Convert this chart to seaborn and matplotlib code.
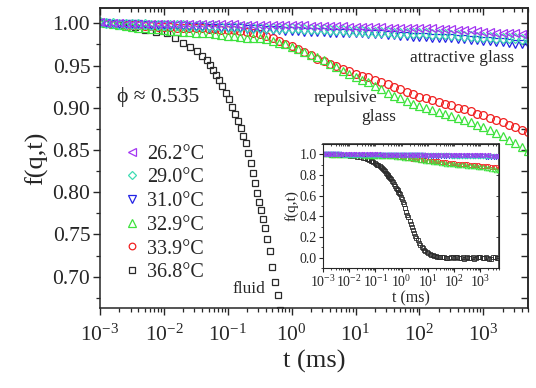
import matplotlib
matplotlib.use('Agg')
import matplotlib.pyplot as plt
from matplotlib.ticker import LogLocator, MultipleLocator, FormatStrFormatter, NullFormatter
import seaborn as sns

# lag times of the glass samples (ms)
t_glass = [0.001, 0.00126, 0.00158, 0.002, 0.00251, 0.00316, 0.00398, 0.00501, 0.00631, 0.00794,
           0.01, 0.0126, 0.0158, 0.02, 0.0251, 0.0316, 0.0398, 0.0501, 0.0631, 0.0794,
           0.1, 0.126, 0.158, 0.2, 0.251, 0.316, 0.398, 0.501, 0.631, 0.794,
           1, 1.26, 1.58, 2, 2.51, 3.16, 3.98, 5.01, 6.31, 7.94,
           10, 12.6, 15.8, 20, 25.1, 31.6, 39.8, 50.1, 63.1, 79.4,
           100, 126, 158, 200, 251, 316, 398, 501, 631, 794,
           1000, 1260, 1580, 2000, 2510, 3160, 3980, 5010]

f_262 = [1.001, 1.000, 1.000, 1.000, 0.999, 0.999, 0.999, 0.999, 0.999, 0.999,
         0.999, 0.999, 0.999, 0.999, 0.999, 0.999, 0.999, 0.999, 0.999, 0.999,
         0.999, 0.999, 0.998, 0.998, 0.998, 0.998, 0.998, 0.998, 0.998, 0.998,
         0.998, 0.998, 0.998, 0.997, 0.997, 0.997, 0.997, 0.997, 0.997, 0.996,
         0.996, 0.996, 0.996, 0.996, 0.996, 0.995, 0.995, 0.995, 0.995, 0.995,
         0.994, 0.994, 0.994, 0.993, 0.993, 0.993, 0.992, 0.992, 0.992, 0.991,
         0.990, 0.990, 0.989, 0.989, 0.988, 0.988, 0.987, 0.987]

f_290 = [1.001, 1.000, 1.000, 0.999, 0.999, 0.999, 0.999, 0.999, 0.998, 0.998,
         0.998, 0.998, 0.998, 0.998, 0.997, 0.997, 0.997, 0.997, 0.997, 0.996,
         0.996, 0.996, 0.996, 0.996, 0.995, 0.995, 0.995, 0.995, 0.995, 0.994,
         0.994, 0.994, 0.993, 0.993, 0.993, 0.993, 0.992, 0.992, 0.992, 0.991,
         0.991, 0.991, 0.990, 0.990, 0.990, 0.990, 0.989, 0.989, 0.989, 0.988,
         0.988, 0.988, 0.987, 0.987, 0.987, 0.986, 0.986, 0.985, 0.985, 0.984,
         0.984, 0.984, 0.983, 0.983, 0.982, 0.982, 0.981, 0.981]

f_310 = [1.000, 1.000, 0.999, 0.999, 0.999, 0.999, 0.999, 0.998, 0.998, 0.998,
         0.998, 0.997, 0.997, 0.997, 0.996, 0.996, 0.996, 0.995, 0.995, 0.995,
         0.994, 0.994, 0.994, 0.993, 0.993, 0.993, 0.992, 0.992, 0.992, 0.991,
         0.991, 0.991, 0.990, 0.990, 0.990, 0.990, 0.989, 0.989, 0.989, 0.988,
         0.988, 0.988, 0.987, 0.987, 0.987, 0.986, 0.986, 0.985, 0.985, 0.984,
         0.984, 0.984, 0.983, 0.983, 0.982, 0.982, 0.981, 0.981, 0.980, 0.980,
         0.979, 0.979, 0.978, 0.978, 0.977, 0.976, 0.976, 0.975]

f_329 = [1.001, 1.000, 0.999, 0.998, 0.997, 0.996, 0.995, 0.994, 0.993, 0.993,
         0.992, 0.991, 0.991, 0.990, 0.990, 0.989, 0.988, 0.988, 0.987, 0.986,
         0.985, 0.985, 0.984, 0.983, 0.983, 0.982, 0.981, 0.979, 0.977, 0.975,
         0.972, 0.969, 0.966, 0.963, 0.960, 0.956, 0.952, 0.948, 0.944, 0.940,
         0.936, 0.933, 0.930, 0.926, 0.922, 0.918, 0.914, 0.911, 0.908, 0.905,
         0.902, 0.900, 0.897, 0.895, 0.893, 0.890, 0.888, 0.885, 0.883, 0.880,
         0.877, 0.874, 0.870, 0.866, 0.862, 0.858, 0.853, 0.849]

f_339 = [1.001, 1.000, 0.999, 0.999, 0.998, 0.998, 0.998, 0.997, 0.997, 0.996,
         0.996, 0.996, 0.995, 0.995, 0.995, 0.994, 0.994, 0.993, 0.993, 0.992,
         0.992, 0.992, 0.991, 0.990, 0.989, 0.987, 0.985, 0.982, 0.979, 0.976,
         0.973, 0.970, 0.966, 0.962, 0.958, 0.955, 0.952, 0.949, 0.946, 0.943,
         0.940, 0.938, 0.936, 0.933, 0.931, 0.928, 0.925, 0.922, 0.919, 0.916,
         0.913, 0.911, 0.909, 0.907, 0.905, 0.903, 0.900, 0.898, 0.896, 0.893,
         0.891, 0.888, 0.886, 0.883, 0.880, 0.877, 0.874, 0.871]

# fluid sample has its own (denser) lag times
t_fluid = [0.001, 0.0015, 0.0023, 0.0035, 0.005, 0.0075, 0.011, 0.015, 0.02, 0.026,
           0.033, 0.04, 0.047, 0.052, 0.058, 0.065, 0.073, 0.082, 0.093, 0.105,
           0.118, 0.13, 0.145, 0.16, 0.175, 0.19, 0.21, 0.23, 0.25, 0.27,
           0.29, 0.31, 0.33, 0.355, 0.38, 0.41, 0.45, 0.49, 0.54, 0.6,
           0.66, 0.70, 0.75, 0.80, 0.85, 0.92, 1.0, 1.1, 1.2, 1.35,
           1.5, 1.65, 1.8, 2.0, 2.2, 2.45, 2.7, 3.0, 3.3, 3.65,
           4.0, 4.5, 5.0, 5.7, 6.5, 7.2, 8.0, 9.0, 10, 11.5,
           13, 15, 17, 19.5, 22, 26, 30, 35, 40, 47,
           55, 65, 75, 88, 100, 115, 130, 155, 180, 210,
           240, 280, 320, 370, 430, 500, 580, 680, 780, 900,
           1000, 1200, 1400, 1650, 1900, 2200, 2600, 3000, 3500, 4100,
           4700]
f_368 = [1.000, 0.999, 0.998, 0.996, 0.9925, 0.990, 0.988, 0.983, 0.977, 0.972,
         0.967, 0.961, 0.956, 0.951, 0.945, 0.939, 0.933, 0.926, 0.918, 0.910,
         0.901, 0.893, 0.884, 0.876, 0.866, 0.858, 0.847, 0.835, 0.823, 0.811,
         0.799, 0.789, 0.779, 0.768, 0.758, 0.745, 0.730, 0.712, 0.694, 0.678,
         0.661, 0.651, 0.640, 0.626, 0.612, 0.592, 0.565, 0.540, 0.515, 0.480,
         0.445, 0.418, 0.390, 0.360, 0.330, 0.300, 0.270, 0.242, 0.215, 0.192,
         0.170, 0.146, 0.125, 0.106, 0.090, 0.077, 0.065, 0.055, 0.045, 0.037,
         0.030, 0.024, 0.020, 0.015, 0.012, 0.010, 0.008, 0.006, 0.004, 0.002,
         0.000, -0.006, 0.008, 0.003, -0.005, 0.010, 0.004, -0.007, 0.000, 0.006,
         -0.008, 0.002, 0.006, -0.004, 0.000, 0.009, -0.010, -0.002, 0.005, 0.008,
         0.010, -0.006, -0.004, 0.007, 0.002, -0.009, -0.009, 0.004, 0.006, -0.003,
         -0.003]

labels = ['26.2°C', '29.0°C', '31.0°C', '32.9°C', '33.9°C', '36.8°C']
colors = ['#a336f2', '#40dcb4', '#2424e6', '#3ee23e', '#f02020', '#2a2a2a']
markers = ['<', 'D', 'v', '^', 'o', 's']
sizes = [6, 4.6, 6, 6, 5.6, 5]

series = [(t_glass, f_262), (t_glass, f_290), (t_glass, f_310),
          (t_glass, f_329), (t_glass, f_339), (t_fluid, f_368)]

sns.set_style('ticks')
plt.rcParams['font.family'] = ['Liberation Serif', 'DejaVu Serif']
plt.rcParams['mathtext.fontset'] = 'custom'
plt.rcParams['mathtext.rm'] = 'Liberation Serif'
plt.rcParams['mathtext.it'] = 'Liberation Serif:italic'
plt.rcParams['axes.linewidth'] = 1.1

fig = plt.figure(figsize=(5.36, 3.88), dpi=100)
ax = fig.add_axes([0.1866, 0.2062, 0.7985, 0.773])
ins = fig.add_axes([0.6026, 0.309, 0.328, 0.320])


def draw(axis, scale, lw):
    # black drawn first, violet last (on top)
    for i in reversed(range(len(series))):
        t, f = series[i]
        sns.lineplot(x=t, y=f, ax=axis, estimator=None, errorbar=None, sort=False,
                     linestyle='', marker=markers[i], markersize=sizes[i] * scale,
                     mfc='none', mec=colors[i], mew=lw, color=colors[i], label=labels[i])


draw(ax, 1.0, 0.9)
draw(ins, 0.55, 0.6)

# ---- main axes
ax.set_xscale('log')
ax.set_xlim(1e-3, 5e3)
ax.set_ylim(0.663, 1.018)
ax.xaxis.set_major_locator(LogLocator(base=10, numticks=20))
ax.xaxis.set_minor_locator(LogLocator(base=10, subs=range(2, 10), numticks=20))
ax.xaxis.set_minor_formatter(NullFormatter())
ax.yaxis.set_major_locator(MultipleLocator(0.05))
ax.yaxis.set_minor_locator(MultipleLocator(0.025))
ax.yaxis.set_major_formatter(FormatStrFormatter('%.2f'))
ax.tick_params(which='major', direction='out', length=5, width=1.0, labelsize=15.5, pad=2)
ax.tick_params(which='minor', direction='out', length=3, width=0.9)
ax.tick_params(axis='x', which='major', pad=7)
ax.set_xlabel('t (ms)', fontsize=19, labelpad=3)
ax.set_ylabel('f(q,t)', fontsize=19, labelpad=3)

top = ax.secondary_xaxis('top')
top.xaxis.set_major_locator(LogLocator(base=10, numticks=20))
top.xaxis.set_minor_locator(LogLocator(base=10, subs=range(2, 10), numticks=20))
top.tick_params(which='major', direction='in', length=5, width=1.0, labeltop=False)
top.tick_params(which='minor', direction='in', length=3, width=0.9, labeltop=False)
right = ax.secondary_yaxis('right')
right.yaxis.set_major_locator(MultipleLocator(0.025))
right.tick_params(which='major', direction='in', length=5, width=1.0, labelright=False)

handles, labs = ax.get_legend_handles_labels()
order = [labs.index(l) for l in labels]
ax.legend([handles[k] for k in order], labels, loc='upper left', bbox_to_anchor=(0.037, 0.572),
          frameon=False, fontsize=14.5, handlelength=0.8, handletextpad=0.35, labelspacing=0.23,
          markerscale=0.85, borderaxespad=0)

ax.text(0.04, 0.705, 'ϕ ≈ 0.535', transform=ax.transAxes, fontsize=15.5, va='center', ha='left')
ax.text(0.967, 0.832, 'attractive glass', transform=ax.transAxes, fontsize=12.5, va='center', ha='right')
ax.text(0.498, 0.70, 'repulsive', transform=ax.transAxes, fontsize=12.5, va='center', ha='left')
ax.text(0.61, 0.637, 'glass', transform=ax.transAxes, fontsize=12.5, va='center', ha='left')
ax.text(0.31, 0.063, 'fluid', transform=ax.transAxes, fontsize=12.5, va='center', ha='left')

# ---- inset
ins.set_xscale('log')
ins.set_xlim(1e-3, 5e3)
ins.set_ylim(-0.1, 1.1)
ins.xaxis.set_major_locator(LogLocator(base=10, numticks=20))
ins.xaxis.set_minor_locator(LogLocator(base=10, subs=range(2, 10), numticks=20))
ins.xaxis.set_minor_formatter(NullFormatter())
ins.yaxis.set_major_locator(MultipleLocator(0.2))
ins.yaxis.set_minor_locator(MultipleLocator(0.1))
ins.yaxis.set_major_formatter(FormatStrFormatter('%.1f'))
ins.tick_params(which='major', direction='out', length=3, width=0.8, labelsize=10, pad=1.5)
ins.tick_params(which='minor', direction='out', length=1.5, width=0.6)
ins.set_xlabel('t (ms)', fontsize=11.5, labelpad=0)
ins.set_ylabel('f(q,t)', fontsize=11, labelpad=1)
for s in ins.spines.values():
    s.set_linewidth(0.8)
itop = ins.secondary_xaxis('top')
itop.xaxis.set_major_locator(LogLocator(base=10, numticks=20))
itop.xaxis.set_minor_locator(LogLocator(base=10, subs=range(2, 10), numticks=20))
itop.tick_params(which='both', direction='in', length=1.5, width=0.6, labeltop=False)
iright = ins.secondary_yaxis('right')
iright.yaxis.set_major_locator(MultipleLocator(0.2))
iright.tick_params(which='major', direction='in', length=2, width=0.6, labelright=False)
if ins.get_legend() is not None:
    ins.get_legend().remove()

fig.savefig('out.png', dpi=100)
